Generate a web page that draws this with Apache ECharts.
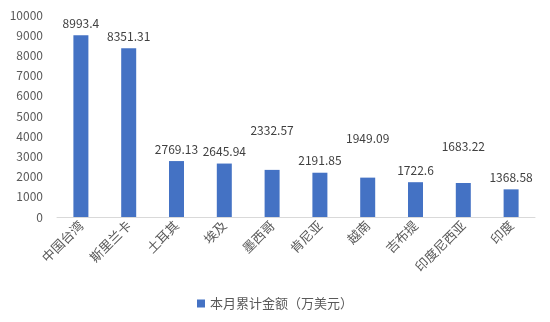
<!DOCTYPE html>
<html><head><meta charset="utf-8">
<script src="https://cdn.jsdelivr.net/npm/echarts@6/dist/echarts.min.js"></script>
<style>html,body{margin:0;padding:0;background:#fff}#c{width:550px;height:322px}</style>
</head><body><div id="c"></div>
<script>
const categories = ['中国台湾','斯里兰卡','土耳其','埃及','墨西哥','肯尼亚','越南','吉布提','印度尼西亚','印度'];
const values = [8993.4, 8351.31, 2769.13, 2645.94, 2332.57, 2191.85, 1949.09, 1722.6, 1683.22, 1368.58];
const seriesName = '本月累计金额（万美元）';
const yTicks = [0, 1000, 2000, 3000, 4000, 5000, 6000, 7000, 8000, 9000, 10000];

// label style: some labels are lifted higher (style only)
const lifted = {4: 27, 6: 27, 8: 25};
const FONT = '"Noto Sans CJK SC", "Microsoft YaHei", sans-serif';
const chart = echarts.init(document.getElementById('c'), null, {renderer: 'canvas'});
chart.setOption({
  animation: false,
  textStyle: {fontFamily: FONT},
  grid: {left: 57, right: 15, top: 15, bottom: 105, containLabel: false},
  legend: {
    data: [seriesName], top: 292, left: 'center', itemWidth: 8, itemHeight: 8,
    icon: 'rect', itemGap: 4,
    textStyle: {fontFamily: FONT, fontSize: 13, color: '#595959'}
  },
  xAxis: {
    type: 'category', data: categories,
    axisLine: {lineStyle: {color: '#d9d9d9'}},
    axisTick: {show: false},
    axisLabel: {rotate: 45, interval: 0, fontSize: 13, color: '#595959', margin: 6, fontFamily: FONT}
  },
  yAxis: {
    type: 'value', min: yTicks[0], max: yTicks[yTicks.length - 1], interval: 1000,
    axisLine: {show: false}, axisTick: {show: false}, splitLine: {show: false},
    axisLabel: {fontSize: 12, color: '#595959', margin: 14, fontFamily: FONT, formatter: v => String(v)}
  },
  series: [{
    name: seriesName, type: 'bar', barWidth: 15,
    itemStyle: {color: '#4472c4'},
    data: values.map((v, i) => ({
      value: v,
      label: {distance: 6 + (lifted[i] || 0)}
    })),
    label: {show: true, position: 'top', fontSize: 12, color: '#404040', fontFamily: FONT}
  }]
});
</script></body></html>
